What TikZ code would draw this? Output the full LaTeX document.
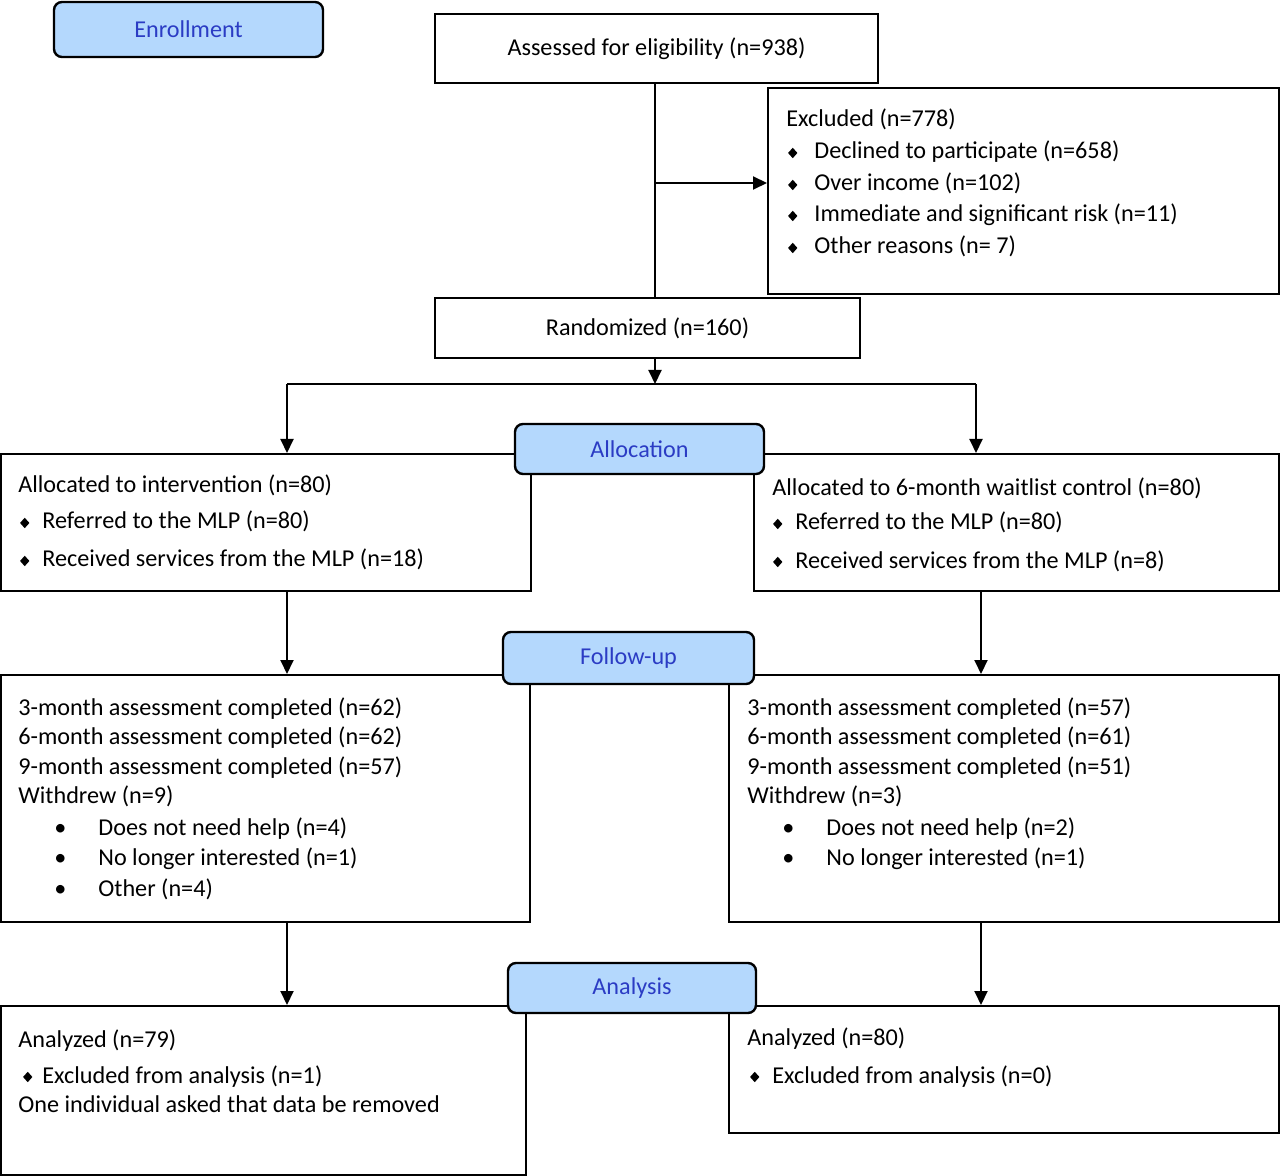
\documentclass[tikz,border=0pt]{standalone}
\usepackage{graphicx}
\usepackage{fontspec}
\setmainfont{Carlito}
\usepackage{tikz}
\usetikzlibrary{arrows.meta,fit,positioning}
\definecolor{stagefill}{HTML}{B4D8FD}
\definecolor{stagetext}{HTML}{2B3CC4}
\newcommand{\dia}[1][6.5pt]{\llap{\raisebox{0.4pt}{\scalebox{1}[1.12]{\rotatebox{45}{\rule{3.3pt}{3.3pt}}}}\hspace{#1}}}
\newcommand{\dotb}{\llap{\textbullet\hspace{16pt}}}

\begin{document}
\begin{tikzpicture}[x=0.5pt, y=-0.5pt,
              box/.style={draw, line width=1pt, inner sep=0pt},
              stage/.style={draw, line width=1.2pt, fill=stagefill, rounded corners=4pt, inner sep=0pt},
              stagelabel/.style={text=stagetext, inner sep=0pt},
              txt/.style={anchor=base west, inner sep=0pt},
              link/.style={line width=1pt},
              arr/.style={line width=1pt, -{Triangle[length=7pt,width=6.5pt]}},
              font=\fontsize{12.1}{14}\selectfont
             ]
\useasboundingbox (0,0) rectangle (1280,1176);
% boxes
\node[box, fit={(435,14) (878,83)}] (assess) {};
\node[box, fit={(768,88) (1279,294)}] (excl) {};
\node[box, fit={(435,298) (860,358)}] (rand) {};
\node[box, fit={(1,454) (531,591)}] (allocL) {};
\node[box, fit={(754,454) (1279,591)}] (allocR) {};
\node[box, fit={(1,675) (530,922)}] (fupL) {};
\node[box, fit={(729,675) (1279,922)}] (fupR) {};
\node[box, fit={(1,1006) (526,1175)}] (anaL) {};
\node[box, fit={(729,1006) (1279,1133)}] (anaR) {};
\node (assessT) at (assess.center) {Assessed for eligibility (n=938)};
\node (randT) at (rand.center) {Randomized (n=160)};

% connectors
\coordinate (split) at (655,183);
\coordinate (branch) at (655,384);
\coordinate (bl) at (287,384);
\coordinate (br) at (976,384);
\coordinate (rc) at (981,0);
\draw[link] (split |- assess.south) -- (split |- rand.north);
\draw[arr] (split) -- (split -| excl.west);
\draw[arr] (split |- rand.south) -- (branch);
\draw[link] (bl) -- (br);
\draw[arr] (bl) -- (bl |- allocL.north);
\draw[arr] (br) -- (br |- allocR.north);
\draw[arr] (bl |- allocL.south) -- (bl |- fupL.north);
\draw[arr] (rc |- allocR.south) -- (rc |- fupR.north);
\draw[arr] (bl |- fupL.south) -- (bl |- anaL.north);
\draw[arr] (rc |- fupR.south) -- (rc |- anaR.north);

% stage labels
\node[stage, fit={(54,2) (323,57)}] (enrol) {};
\node[stage, fit={(515,424) (764,474)}] (alloc) {};
\node[stage, fit={(503,632) (754,684)}] (fup) {};
\node[stage, fit={(508,963) (756,1013)}] (ana) {};
\node[stagelabel] (enrolT) at (enrol.center) {Enrollment};
\node[stagelabel] (allocT) at (alloc.center) {Allocation};
\node[stagelabel] (fupT) at (fup.center) {Follow-up};
\node[stagelabel] (anaT) at (ana.center) {Analysis};

% excluded
\node[txt] (ex0) at (786,127) {Excluded (n=778)};
\node[txt] (ex1) at (814,159) {\dia[8.5pt]Declined to participate (n=658)};
\node[txt] (ex2) at (814,191) {\dia[8.5pt]Over income (n=102)};
\node[txt] (ex3) at (814,222) {\dia[8.5pt]Immediate and significant risk (n=11)};
\node[txt] (ex4) at (814,254) {\dia[8.5pt]Other reasons (n= 7)};

% allocation
\node[txt] (al0) at (18,493) {Allocated to intervention (n=80)};
\node[txt] (al1) at (42,529) {\dia Referred to the MLP (n=80)};
\node[txt] (al2) at (42,567) {\dia Received services from the MLP (n=18)};
\node[txt] (ar0) at (772,495) {Allocated to 6-month waitlist control (n=80)};
\node[txt] (ar1) at (795,530) {\dia Referred to the MLP (n=80)};
\node[txt] (ar2) at (795,568) {\dia Received services from the MLP (n=8)};

% follow-up
\node[txt] (fl0) at (18,715) {3-month assessment completed (n=62)};
\node[txt] (fl1) at (18,744) {6-month assessment completed (n=62)};
\node[txt] (fl2) at (18,774) {9-month assessment completed (n=57)};
\node[txt] (fl3) at (18,803) {Withdrew (n=9)};
\node[txt] (fl4) at (98,835) {\dotb Does not need help (n=4)};
\node[txt] (fl5) at (98,865) {\dotb No longer interested (n=1)};
\node[txt] (fl6) at (98,896) {\dotb Other (n=4)};
\node[txt] (fr0) at (747,715) {3-month assessment completed (n=57)};
\node[txt] (fr1) at (747,744) {6-month assessment completed (n=61)};
\node[txt] (fr2) at (747,774) {9-month assessment completed (n=51)};
\node[txt] (fr3) at (747,803) {Withdrew (n=3)};
\node[txt] (fr4) at (826,835) {\dotb Does not need help (n=2)};
\node[txt] (fr5) at (826,865) {\dotb No longer interested (n=1)};

% analysis
\node[txt] (nl0) at (18,1047) {Analyzed (n=79)};
\node[txt] (nl1) at (42,1083) {\dia[5pt]Excluded from analysis (n=1)};
\node[txt] (nl2) at (18,1112) {One individual asked that data be removed};
\node[txt] (nr0) at (747,1045) {Analyzed (n=80)};
\node[txt] (nr1) at (772,1083) {\dia[6.5pt]Excluded from analysis (n=0)};
\end{tikzpicture}
\end{document}
